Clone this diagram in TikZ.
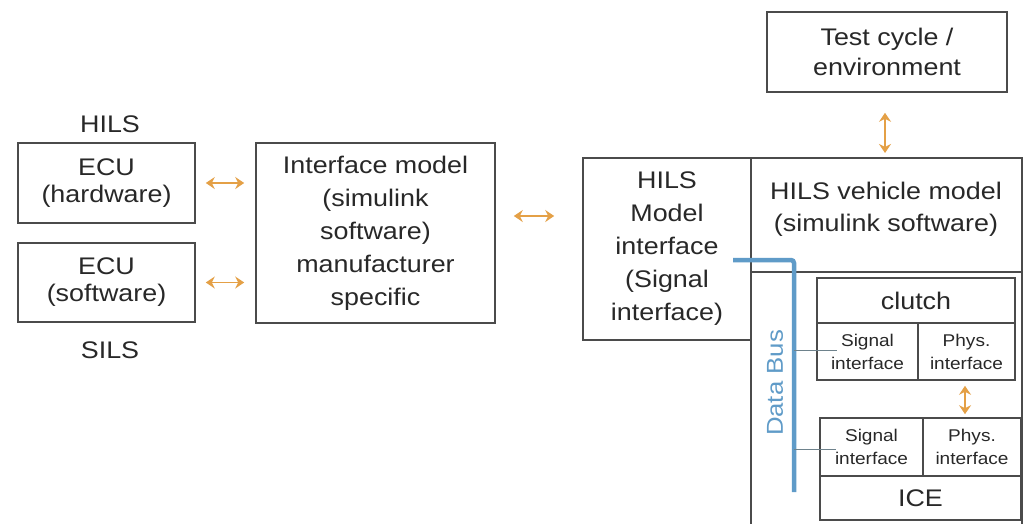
\documentclass[tikz,border=0pt]{standalone}
\usepackage{fontspec}
\setmainfont{Liberation Sans}[FakeStretch=1.12]
\usetikzlibrary{arrows.meta,calc}
\definecolor{boxline}{RGB}{75,75,75}
\definecolor{txt}{RGB}{40,40,40}
\definecolor{arrorange}{RGB}{228,160,70}
\definecolor{busblue}{RGB}{95,155,200}
\definecolor{thinline}{RGB}{110,130,140}
\begin{document}
\begin{tikzpicture}[x=1pt,y=-1pt,
  box/.style={draw=boxline,line width=1.6pt,inner sep=0pt,text=txt,align=center},
  big/.style={font=\fontsize{24}{32}\selectfont},
  small/.style={font=\fontsize{17}{23}\selectfont},
  lbl/.style={text=txt,inner sep=0pt,align=center},
  arr/.style={draw=arrorange,line width=1.8pt,{Stealth[length=9pt,width=12pt,inset=3pt]}-{Stealth[length=9pt,width=12pt,inset=3pt]}},
  bus/.style={draw=busblue,line width=4.5pt,rounded corners=3pt},
  tap/.style={draw=thinline,line width=0.9pt}]
\clip (0,0) rectangle (1024,523);
\fill[white] (0,0) rectangle (1024,523);

% left column
\node[lbl,big] (hils) at (110,124) {HILS};
\node[box,big,minimum width=177pt,minimum height=80pt,font=\fontsize{24}{27}\selectfont] (ecuhw) at (106.5,183) {ECU\\(hardware)};
\node[box,big,minimum width=177pt,minimum height=79pt,font=\fontsize{24}{27}\selectfont] (ecusw) at (106.5,282.5) {ECU\\(software)};
\node[lbl,big] (sils) at (110,350) {SILS};

% interface model
\node[box,big,minimum width=239pt,minimum height=180pt,font=\fontsize{24}{33}\selectfont] (ifm) at (375.5,233) {Interface model\\(simulink\\software)\\manufacturer\\specific};

% HILS model interface
\node[box,big,minimum width=168pt,minimum height=182pt,font=\fontsize{24}{33}\selectfont] (hmi) at (667,249) {HILS\\Model\\interface\\(Signal\\interface)};

% vehicle model frame (open at bottom edge)
\coordinate (vtl) at (751,158);
\coordinate (vbr) at (1022,540);
\draw[boxline,line width=1.6pt] (vtl) rectangle (vbr);
\coordinate (sepL) at (751,272);
\coordinate (sepR) at (1022,272);
\draw[boxline,line width=1.6pt] (sepL) -- (sepR);
\node[lbl,big,font=\fontsize{24}{32}\selectfont] (veh) at (886,209) {HILS vehicle model\\(simulink software)};

% test cycle
\node[box,big,minimum width=240pt,minimum height=80pt,font=\fontsize{24}{30}\selectfont] (test) at (887,52) {Test cycle /\\environment};

% clutch
\node[box,big,minimum width=198pt,minimum height=45pt] (clutch) at (916,300.5) {clutch};
\node[box,small,minimum width=101pt,minimum height=57pt] (csig) at (867.5,351.5) {Signal\\interface};
\node[box,small,minimum width=97pt,minimum height=57pt] (cphys) at (966.5,351.5) {Phys.\\interface};

% ICE
\node[box,small,minimum width=103pt,minimum height=58pt] (isig) at (871.5,447) {Signal\\interface};
\node[box,small,minimum width=98pt,minimum height=58pt] (iphys) at (972,447) {Phys.\\interface};
\node[box,big,minimum width=201pt,minimum height=44pt] (ice) at (920.5,498) {ICE};

% data bus
\coordinate (busS) at (733,260);
\coordinate (busC) at (794,260);
\coordinate (busE) at (794,492);
\draw[bus] (busS) -- (busC) -- (busE);
\node[text=busblue,rotate=90,inner sep=0pt,font=\fontsize{23}{23}\selectfont] (dbus) at (775,383) {Data Bus};
\coordinate (tap1) at (794,350);
\coordinate (tap2) at (794,449);
\draw[tap] (tap1) -- ($(csig.west|-tap1)+(21,0)$);
\draw[tap] (tap2) -- ($(isig.west|-tap2)+(17,0)$);

% arrows
\draw[arr,shorten <=10pt,shorten >=11pt] (ecuhw.east) -- (ecuhw.east -| ifm.west);
\draw[arr,shorten <=10pt,shorten >=11pt] (ecusw.east) -- (ecusw.east -| ifm.west);
\draw[arr,shorten <=18pt,shorten >=28pt] ($(ifm.east)+(0,-17)$) -- ($(hmi.west)+(0,-33)$);
\draw[arr,shorten <=20pt,shorten >=5pt] (test.south -| 885,0) -- (885,158);
\draw[arr,shorten <=5pt,shorten >=3pt] (cphys.south -| 965,0) -- (iphys.north -| 965,0);
\end{tikzpicture}
\end{document}
